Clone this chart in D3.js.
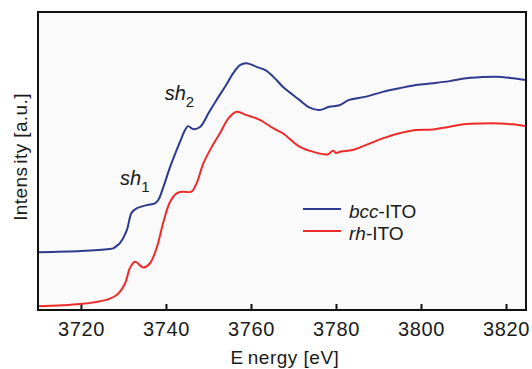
<!DOCTYPE html>
<html>
<head>
<meta charset="utf-8">
<script src="https://cdn.jsdelivr.net/npm/d3@7"></script>
<style>
  body { margin: 0; background: #ffffff; }
  text { font-family: "Liberation Sans", Arial, sans-serif; fill: #1a1a1a; }
</style>
</head>
<body>
<div class="xanes"></div>
<script>
// Spectra: energy [eV] and intensity [a.u., 0..1 of the frame].
const bccEnergy = [3709.9, 3720.0, 3726.8, 3727.6, 3728.5, 3729.2, 3730.8, 3731.9, 3733.1, 3735.5,
  3737.4, 3738.2, 3739.4, 3740.9, 3743.3, 3744.5, 3745.2, 3746.4, 3748.0, 3750.0,
  3751.9, 3753.9, 3755.8, 3757.4, 3759.0, 3761.3, 3763.5, 3766.0, 3767.5, 3771.4,
  3773.7, 3776.1, 3778.4, 3780.8, 3783.1, 3787.1, 3791.0, 3794.9, 3798.8, 3802.8,
  3806.7, 3810.6, 3813.7, 3817.6, 3821.6, 3824.7];
const bccIntensity = [0.194, 0.198, 0.205, 0.207, 0.216, 0.225, 0.268, 0.326, 0.341, 0.352,
  0.358, 0.369, 0.413, 0.477, 0.564, 0.604, 0.617, 0.607, 0.614, 0.660,
  0.705, 0.749, 0.794, 0.822, 0.828, 0.816, 0.804, 0.772, 0.749, 0.705,
  0.680, 0.671, 0.682, 0.687, 0.705, 0.716, 0.732, 0.744, 0.755, 0.761,
  0.768, 0.778, 0.781, 0.783, 0.778, 0.772];

const rhEnergy = [3709.95, 3719.8, 3726.0, 3728.4, 3730.4, 3731.5, 3732.7, 3734.7, 3736.2, 3737.8,
  3739.4, 3740.9, 3742.6, 3744.1, 3746.0, 3747.2, 3748.8, 3750.8, 3752.7, 3754.7,
  3756.6, 3759.0, 3762.1, 3765.2, 3767.5, 3771.4, 3775.3, 3778.0, 3779.3, 3780.0,
  3781.2, 3783.9, 3787.1, 3791.0, 3794.9, 3798.8, 3802.8, 3806.7, 3810.6, 3814.5,
  3818.4, 3821.6, 3824.7];
const rhIntensity = [0.013, 0.020, 0.034, 0.050, 0.090, 0.140, 0.162, 0.143, 0.156, 0.208,
  0.295, 0.361, 0.392, 0.397, 0.397, 0.425, 0.492, 0.548, 0.593, 0.643,
  0.665, 0.654, 0.638, 0.610, 0.593, 0.548, 0.528, 0.522, 0.534, 0.527,
  0.532, 0.537, 0.554, 0.576, 0.593, 0.604, 0.606, 0.615, 0.624, 0.626,
  0.626, 0.623, 0.617];

const xTicks = [3720, 3740, 3760, 3780, 3800, 3820];
const seriesNames = ["bcc", "rh"];
const seriesColors = ["#2e3a8f", "#ee2a2a"];

// Size of the picture and of the framed plot area.
const width = 532;
const height = 369;
const margin = { top: 12, right: 6, bottom: 59, left: 38 };

const svg = d3.select(".xanes")
  .append("svg")
  .attr("width", width)
  .attr("height", height);

// Energy axis runs a little past the last tick, intensity fills the frame.
const x = d3.scaleLinear()
  .domain([3709.9, 3824.7])
  .range([margin.left, width - margin.right]);
const y = d3.scaleLinear()
  .domain([0, 1])
  .range([height - margin.bottom, margin.top]);

// Light plot background.
svg.append("rect")
  .attr("x", margin.left)
  .attr("y", margin.top)
  .attr("width", width - margin.left - margin.right)
  .attr("height", height - margin.top - margin.bottom)
  .attr("fill", "#fafafa");

// Bottom axis with inward ticks.
const xAxis = svg.append("g")
  .attr("transform", `translate(0,${height - margin.bottom})`)
  .call(d3.axisBottom(x).tickValues(xTicks).tickSizeInner(-6).tickSizeOuter(0).tickPadding(12).tickFormat(d3.format("d")));
xAxis.select(".domain").remove();
xAxis.selectAll("line").attr("stroke", "#111").attr("stroke-width", 2);
xAxis.selectAll("text")
  .attr("font-size", "20px")
  .attr("letter-spacing", "0.6px")
  .attr("fill", "#1a1a1a");

// Draw the two spectra.
const line = d3.line()
  .x(d => x(d[0]))
  .y(d => y(d[1]))
  .curve(d3.curveCatmullRom.alpha(0.5));

const bcc = bccEnergy.map((e, i) => [e, bccIntensity[i]]);
const rh = rhEnergy.map((e, i) => [e, rhIntensity[i]]);

[bcc, rh].forEach((data, i) => {
  svg.append("path")
    .datum(data)
    .attr("fill", "none")
    .attr("stroke", seriesColors[i])
    .attr("stroke-width", 2)
    .attr("d", line);
});

// Frame around the plot.
svg.append("rect")
  .attr("x", margin.left)
  .attr("y", margin.top)
  .attr("width", width - margin.left - margin.right)
  .attr("height", height - margin.top - margin.bottom)
  .attr("fill", "none")
  .attr("stroke", "#111")
  .attr("stroke-width", 2);

// Shoulder labels.
const shoulders = [
  { label: "1", e: 3729.2, v: 0.42 },
  { label: "2", e: 3739.7, v: 0.706 }
];
shoulders.forEach(s => {
  const t = svg.append("text")
    .attr("x", x(s.e))
    .attr("y", y(s.v))
    .attr("font-size", "20px");
  t.append("tspan").attr("font-style", "italic").text("sh");
  t.append("tspan").attr("dy", 7).attr("font-size", "15px").text(s.label);
});

// Legend.
const legend = svg.append("g").attr("transform", "translate(303,209)");
seriesNames.forEach((name, i) => {
  legend.append("line")
    .attr("x1", 0)
    .attr("x2", 38)
    .attr("y1", i * 22)
    .attr("y2", i * 22)
    .attr("stroke", seriesColors[i])
    .attr("stroke-width", 2);
  const t = legend.append("text")
    .attr("x", 46)
    .attr("y", i * 22 + 5)
    .attr("dy", "0.2em")
    .attr("font-size", "19px");
  t.append("tspan").attr("font-style", "italic").text(name);
  t.append("tspan").text("-ITO");
});

// Axis titles.
const xTitle = svg.append("text")
  .attr("x", (margin.left + width - margin.right) / 2 + 3)
  .attr("y", 364)
  .attr("text-anchor", "middle")
  .attr("font-size", "19px")
  .attr("letter-spacing", "0.5px");
xTitle.append("tspan").text("E");
xTitle.append("tspan").attr("dx", 4).text("nergy [eV]");

const yTitle = svg.append("text")
  .attr("transform", `translate(27,${(margin.top + height - margin.bottom) / 2 - 4}) rotate(-90)`)
  .attr("text-anchor", "middle")
  .attr("font-size", "19px")
  .attr("letter-spacing", "0.4px");
yTitle.append("tspan").text("Intens");
yTitle.append("tspan").attr("dx", 3).text("ity [a.u.]");
</script>
</body>
</html>
